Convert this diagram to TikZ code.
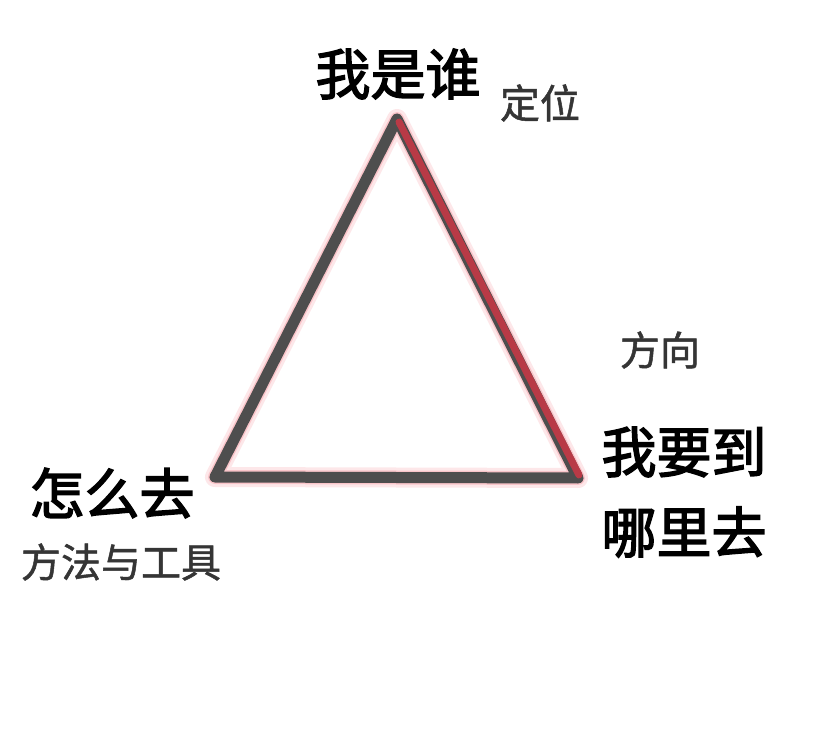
\documentclass[tikz,border=0pt]{standalone}
\usepackage{fontspec}
\newfontfamily\cjkbig[FakeBold=2.6]{Noto Sans CJK SC}
\newfontfamily\cjksmall[FakeBold=1.2]{Noto Sans CJK SC}
\usetikzlibrary{calc}
\definecolor{edgegray}{HTML}{4E4E4E}
\definecolor{edgered}{HTML}{B83A46}
\definecolor{glowred}{HTML}{F04050}
\definecolor{subgray}{HTML}{353535}
\tikzset{
  big/.style={font=\cjkbig\fontsize{55}{60}\selectfont, text=black, inner sep=0pt},
  small/.style={font=\cjksmall\fontsize{40}{44}\selectfont, text=subgray, inner sep=0pt},
  edge/.style={draw=edgegray, line width=11pt, line join=round, line cap=round},
}
\begin{document}
\begin{tikzpicture}[x=1pt,y=-1pt]
\useasboundingbox (0,0) rectangle (828,754);
\fill[white] (0,0) rectangle (828,754);
\coordinate (T) at (397,119);
\coordinate (L) at (215,477);
\coordinate (R) at (578,478);
% glow
\begin{scope}[shift={(4,4)}]
\draw[glowred, opacity=0.12, line width=20pt, line join=round] (T) -- (L) -- (R) -- cycle;
\draw[glowred, opacity=0.2, line width=14pt, line join=round] (T) -- (L) -- (R) -- cycle;
\end{scope}
% edges
\draw[edge] (T) -- (L) -- (R) -- cycle;
\draw[edgered, line width=7pt, line cap=round] ($(T)+(2,3)$) -- ($(R)+(1,-3)$);
% texts
\node[big] (who) at (398,74) {我是谁};
\node[small] (pos) at (540,103) {定位};
\node[small] (dir) at (660,350) {方向};
\node[big] (where1) at (684,452) {我要到};
\node[big] (where2) at (684,532) {哪里去};
\node[big] (how) at (112,493) {怎么去};
\node[small] (tools) at (121,562) {方法与工具};
\end{tikzpicture}
\end{document}
